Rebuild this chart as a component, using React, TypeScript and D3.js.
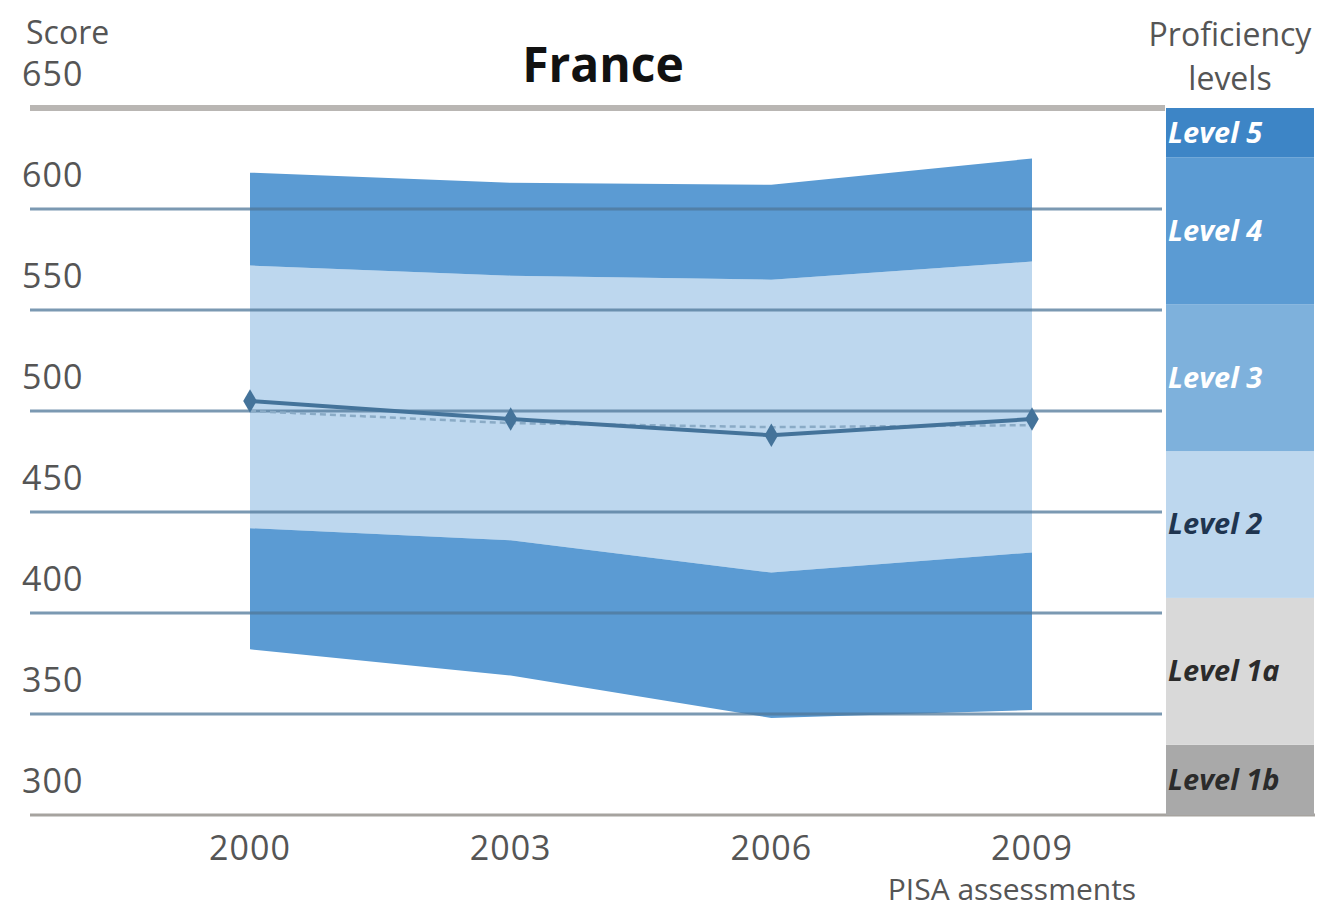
import * as d3 from "d3";
import { useEffect, useRef } from "react";

// PISA reading, France
const years = ["2000", "2003", "2006", "2009"];
const meanScore = [505, 496, 488, 496];
const oecdAverage = [500, 494, 492, 493];
const p10 = [382, 369, 348, 352];
const p25 = [442, 436, 420, 430];
const p75 = [572, 567, 565, 574];
const p90 = [618, 613, 612, 625];
const yTicks = [300, 350, 400, 450, 500, 550, 600, 650];

const levelNames = ["Level 1b", "Level 1a", "Level 2", "Level 3", "Level 4", "Level 5"];
const levelCuts = [262, 334.75, 407.47, 480.18, 552.89, 625.61, 698.32];
const levelColors = ["#a9a9a9", "#d9d9d9", "#bdd7ee", "#7eb1dc", "#5b9bd3", "#3d85c6"];
const levelText = ["#2b2b2b", "#2b2b2b", "#1f3550", "#fff", "#fff", "#fff"];

function App() {
    const ref = useRef<SVGSVGElement>(null);

    useEffect(() => {
        const svg = d3.select(ref.current);
        svg.selectAll("*").remove();

        const font = "'Open Sans', 'DejaVu Sans', sans-serif";
        const y = d3.scaleLinear().domain([300, 650]).range([815, 108]);
        const x = d3.scalePoint<string>().domain(years).range([250, 1032]);

        const rows = years.map((yr, i) => ({
            yr, mean: meanScore[i], oecd: oecdAverage[i],
            p10: p10[i], p25: p25[i], p75: p75[i], p90: p90[i],
        }));

        // percentile bands
        const band = (lo: (d: any) => number, hi: (d: any) => number) =>
            d3.area<any>().x(d => x(d.yr)!).y0(d => y(lo(d))).y1(d => y(hi(d)));

        svg.append("path").datum(rows).attr("d", band(d => d.p25, d => d.p75)).attr("fill", "#bdd7ee");
        svg.append("path").datum(rows).attr("d", band(d => d.p75, d => d.p90)).attr("fill", "#5b9bd3");
        svg.append("path").datum(rows).attr("d", band(d => d.p10, d => d.p25)).attr("fill", "#5b9bd3");

        // gridlines
        svg.append("g").selectAll("line")
            .data(yTicks.filter(t => t > 300 && t < 650))
            .join("line")
            .attr("x1", 30).attr("x2", 1162)
            .attr("y1", d => y(d)).attr("y2", d => y(d))
            .attr("stroke", "#4f7798").attr("stroke-opacity", 0.75).attr("stroke-width", 3);

        svg.append("line")
            .attr("x1", 30).attr("x2", 1165).attr("y1", y(650)).attr("y2", y(650))
            .attr("stroke", "#b9b6b3").attr("stroke-width", 6);
        svg.append("line")
            .attr("x1", 30).attr("x2", 1315).attr("y1", y(300)).attr("y2", y(300))
            .attr("stroke", "#a6a39f").attr("stroke-width", 3);

        // tick labels
        svg.append("g").selectAll("text")
            .data(yTicks)
            .join("text")
            .attr("x", 22).attr("y", d => y(d) - 22)
            .attr("font-family", font).attr("font-size", 34).attr("letter-spacing", 1)
            .attr("fill", "#555")
            .text(d => d);

        svg.append("text").attr("x", 26).attr("y", 44)
            .attr("font-family", font).attr("font-size", 32).attr("fill", "#555").text("Score");

        // lines
        const line = (f: (d: any) => number) => d3.line<any>().x(d => x(d.yr)!).y(d => y(f(d)));
        svg.append("path").datum(rows).attr("d", line(d => d.oecd))
            .attr("fill", "none").attr("stroke", "#8aabc6").attr("stroke-width", 2.5)
            .attr("stroke-dasharray", "6,4");
        svg.append("path").datum(rows).attr("d", line(d => d.mean))
            .attr("fill", "none").attr("stroke", "#44739a").attr("stroke-width", 4);
        svg.append("g").selectAll("path")
            .data(rows)
            .join("path")
            .attr("transform", d => `translate(${x(d.yr)},${y(d.mean)})`)
            .attr("d", d3.symbol(d3.symbolDiamond, 160)())
            .attr("fill", "#44739a");

        // x labels
        svg.append("g").selectAll("text")
            .data(years)
            .join("text")
            .attr("x", d => x(d)!).attr("y", 860)
            .attr("text-anchor", "middle")
            .attr("font-family", font).attr("font-size", 34).attr("letter-spacing", 1)
            .attr("fill", "#555")
            .text(d => d);
        svg.append("text").attr("x", 1012).attr("y", 900).attr("text-anchor", "middle")
            .attr("font-family", font).attr("font-size", 30).attr("fill", "#555").text("PISA assessments");

        svg.append("text").attr("x", 603).attr("y", 82).attr("text-anchor", "middle")
            .attr("font-family", font).attr("font-size", 48).attr("font-weight", "bold")
            .attr("fill", "#111").text("France");

        // proficiency levels column
        const levels = levelNames.map((name, i) => ({
            name, lo: Math.max(levelCuts[i], 300), hi: Math.min(levelCuts[i + 1], 650),
            color: levelColors[i], text: levelText[i],
        }));
        const lv = svg.append("g");
        lv.selectAll("rect")
            .data(levels)
            .join("rect")
            .attr("x", 1166).attr("width", 148)
            .attr("y", d => y(d.hi)).attr("height", d => y(d.lo) - y(d.hi))
            .attr("fill", d => d.color);
        lv.selectAll("text")
            .data(levels)
            .join("text")
            .attr("x", 1168).attr("y", d => (y(d.lo) + y(d.hi)) / 2 + 10)
            .attr("font-family", font).attr("font-size", 29).attr("font-weight", "bold")
            .attr("font-style", "italic").attr("fill", d => d.text)
            .text(d => d.name);

        svg.append("text").attr("x", 1230).attr("y", 46).attr("text-anchor", "middle")
            .attr("font-family", font).attr("font-size", 32).attr("fill", "#555").text("Proficiency");
        svg.append("text").attr("x", 1230).attr("y", 90).attr("text-anchor", "middle")
            .attr("font-family", font).attr("font-size", 32).attr("fill", "#555").text("levels");
    }, []);

    return (
        <div style={{ position: "absolute", left: 0, top: 0 }}>
            <svg width={1333} height={912} ref={ref} style={{ display: "block", background: "#fff" }} />
        </div>
    );
}

export default App;
